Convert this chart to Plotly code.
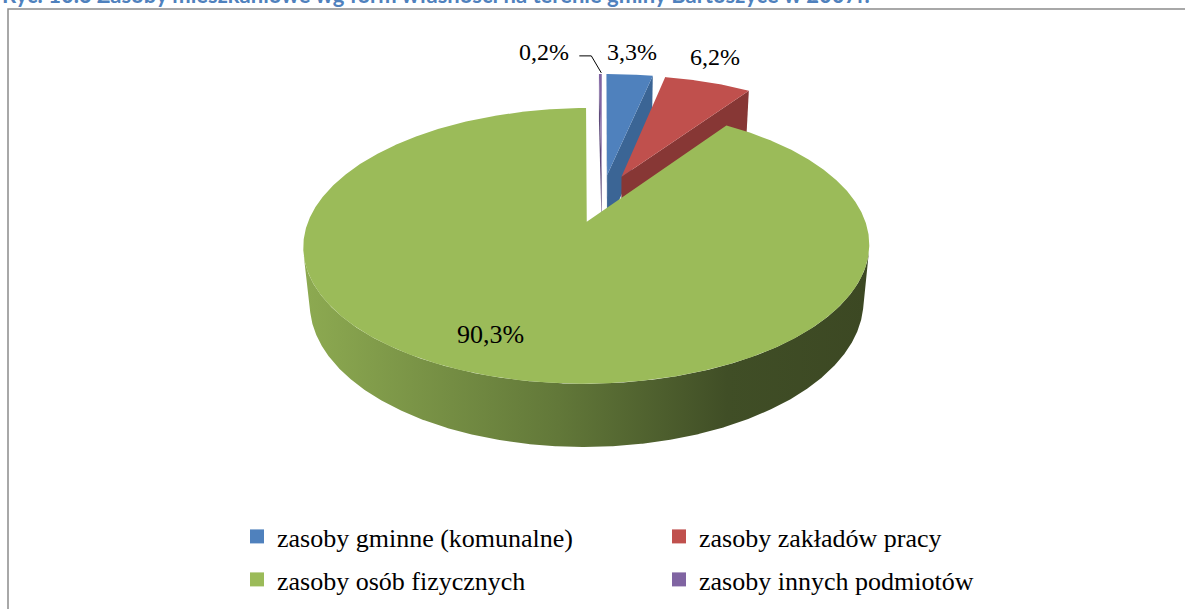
import numpy as np
import plotly.graph_objects as go

# ---------------- data ----------------
categories = [
    "zasoby gminne (komunalne)",
    "zasoby zakładów pracy",
    "zasoby osób fizycznych",
    "zasoby innych podmiotów",
]
shares = [3.3, 6.2, 90.3, 0.2]
label_texts = ["3,3%", "6,2%", "90,3%", "0,2%"]
title_text = "Ryc. 10.3 Zasoby mieszkaniowe wg form własności na terenie gminy Bartoszyce w 2007r."

# ---------------- styles ----------------
top_colors = ["#4F81BD", "#C0504D", "#9BBB59", "#8064A2"]
wall_colors = ["#3B6595", "#873735", "#5E7437", "#5E4A7A"]
side_scales = [
    [[0, "#5F8AC0"], [1, "#2C4C72"]],
    [[0, "#C25A57"], [1, "#682A28"]],
    [[0, "#8DAA51"], [0.45, "#627839"], [0.75, "#404E26"], [1, "#3C4823"]],
    [[0, "#8A70AA"], [1, "#4B3A62"]],
]
legend_of = ["legend", "legend", "legend2", "legend2"]
# label offsets (px) relative to anchor computed on the slice
label_radius = [1.0, 1.0, 0.7, 1.0]
label_shift = [(2, 22), (7, 25), (-31, -11), (-56, 22)]
label_size = [24, 24, 26, 24]

W, HH = 1185, 609

# projection of the 3-D pie (camera geometry)
CX, CY = 602.0, 198.1
A = 270.0
PHI = np.radians(27.7)
S, C = np.sin(PHI), np.cos(PHI)
KAPPA = 0.192
DEPTH = 0.233
EXPLODE = 0.19
CAM = np.array([0.0, -C / KAPPA, S / KAPPA])


def project(X, Y, Z):
    X = np.asarray(X, float)
    Y = np.asarray(Y, float)
    Z = np.asarray(Z, float)
    D = 1 + KAPPA * (Y * C - Z * S)
    return CX + A * X / D, CY - A * (Y * S + Z * C) / D


vals = np.array(shares, float)
frac = vals / vals.sum() * 360.0
ends = np.cumsum(frac)
starts = ends - frac
mids = (starts + ends) / 2

fig = go.Figure()


def poly(X, Y, Z, color=None, gradient=None):
    px, py = project(X, Y, Z)
    px = list(px) + [px[0]]
    py = list(py) + [py[0]]
    kw = dict(x=px, y=py, mode="lines", fill="toself", hoverinfo="skip",
              showlegend=False, line=dict(width=0, color=color or "rgba(0,0,0,0)"))
    if gradient is not None:
        kw["fillgradient"] = dict(type="horizontal", colorscale=gradient)
        kw["fillcolor"] = gradient[0][1]
    else:
        kw["fillcolor"] = color
    fig.add_trace(go.Scatter(**kw))


# painter's order: farthest slice first
offs = []
for i in range(len(vals)):
    m = np.radians(mids[i])
    offs.append((EXPLODE * np.sin(m), EXPLODE * np.cos(m)))
order = sorted(range(len(vals)), key=lambda i: -offs[i][1])

for i in order:
    ox, oy = offs[i]
    t0, t1 = np.radians(starts[i]), np.radians(ends[i])
    n = max(3, int(np.degrees(t1 - t0) / 0.25) + 1)
    th = np.linspace(t0, t1, n)
    rx = ox + np.sin(th)
    ry = oy + np.cos(th)

    # outer cylindrical side (visible part)
    vis = np.sin(th) * (CAM[0] - rx) + np.cos(th) * (CAM[1] - ry) > 0
    if vis.sum() >= 2:
        idx = np.where(vis)[0]
        sx, sy = rx[idx], ry[idx]
        X = np.concatenate([sx, sx[::-1]])
        Y = np.concatenate([sy, sy[::-1]])
        Z = np.concatenate([np.zeros(len(sx)), -DEPTH * np.ones(len(sx))])
        poly(X, Y, Z, gradient=side_scales[i])

    # radial walls
    for t, nrm in ((t0, (-np.cos(t0), np.sin(t0))), (t1, (np.cos(t1), -np.sin(t1)))):
        ex, ey = ox + np.sin(t), oy + np.cos(t)
        mx, my = (ox + ex) / 2, (oy + ey) / 2
        if nrm[0] * (CAM[0] - mx) + nrm[1] * (CAM[1] - my) > 0:
            poly([ox, ex, ex, ox], [oy, ey, ey, oy], [0, 0, -DEPTH, -DEPTH], color=wall_colors[i])

    # top face
    X = np.concatenate([[ox], rx])
    Y = np.concatenate([[oy], ry])
    poly(X, Y, np.zeros(len(X)), color=top_colors[i])

# ---------------- labels ----------------
for i in range(len(vals)):
    ox, oy = offs[i]
    m = np.radians(mids[i])
    r = label_radius[i]
    ax, ay = project(ox + r * np.sin(m), oy + r * np.cos(m), 0.0)
    fig.add_annotation(x=float(ax), y=float(ay), text=label_texts[i], showarrow=False,
                       xshift=label_shift[i][0], yshift=label_shift[i][1],
                       xanchor="center", yanchor="middle",
                       font=dict(family="Liberation Serif", size=label_size[i], color="black"))

# leader line for the smallest slice
i = 3
ox, oy = offs[i]
m = np.radians(mids[i])
lx, ly = project(ox + np.sin(m), oy + np.cos(m), 0.0)
lx, ly = float(lx), float(ly)
fig.add_trace(go.Scatter(x=[lx + 1, lx - 9, lx - 21], y=[ly - 1, ly - 18, ly - 18],
                         mode="lines", line=dict(color="black", width=1),
                         hoverinfo="skip", showlegend=False))

# ---------------- legend entries (two rows, two columns) ----------------
for i, cat in enumerate(categories):
    fig.add_trace(go.Scatter(x=[None], y=[None], mode="markers", name=cat,
                             legend=legend_of[i],
                             marker=dict(symbol="square", size=14, color=top_colors[i])))

# title (cut off by the top edge, as in the source)
fig.add_annotation(x=0, y=10, xref="x", yref="y", text="<b>" + title_text + "</b>",
                   showarrow=False, xanchor="left", yanchor="bottom",
                   font=dict(family="Lato", size=22, color="#4F81BD"))

# chart frame
fig.add_shape(type="rect", xref="x", yref="y", x0=8, x1=1200, y0=9, y1=640,
              line=dict(color="#8C8C8C", width=1.5))

legend_common = dict(orientation="h", xanchor="left", yanchor="top",
                     entrywidth=377, entrywidthmode="pixels", traceorder="normal",
                     font=dict(family="Liberation Serif", size=26, color="black"),
                     bgcolor="rgba(0,0,0,0)", itemwidth=30)

fig.update_layout(
    width=W, height=HH, autosize=False,
    margin=dict(l=0, r=0, t=0, b=0),
    paper_bgcolor="white", plot_bgcolor="white",
    xaxis=dict(range=[0, W], visible=False, fixedrange=True),
    yaxis=dict(range=[HH, 0], visible=False, fixedrange=True),
    showlegend=True,
    legend=dict(x=237 / W, y=1 - 513 / HH, **legend_common),
    legend2=dict(x=237 / W, y=1 - 556 / HH, **legend_common),
)

fig.write_html("out.html", config={"displayModeBar": False},
               post_script="document.body.style.margin='0';")
